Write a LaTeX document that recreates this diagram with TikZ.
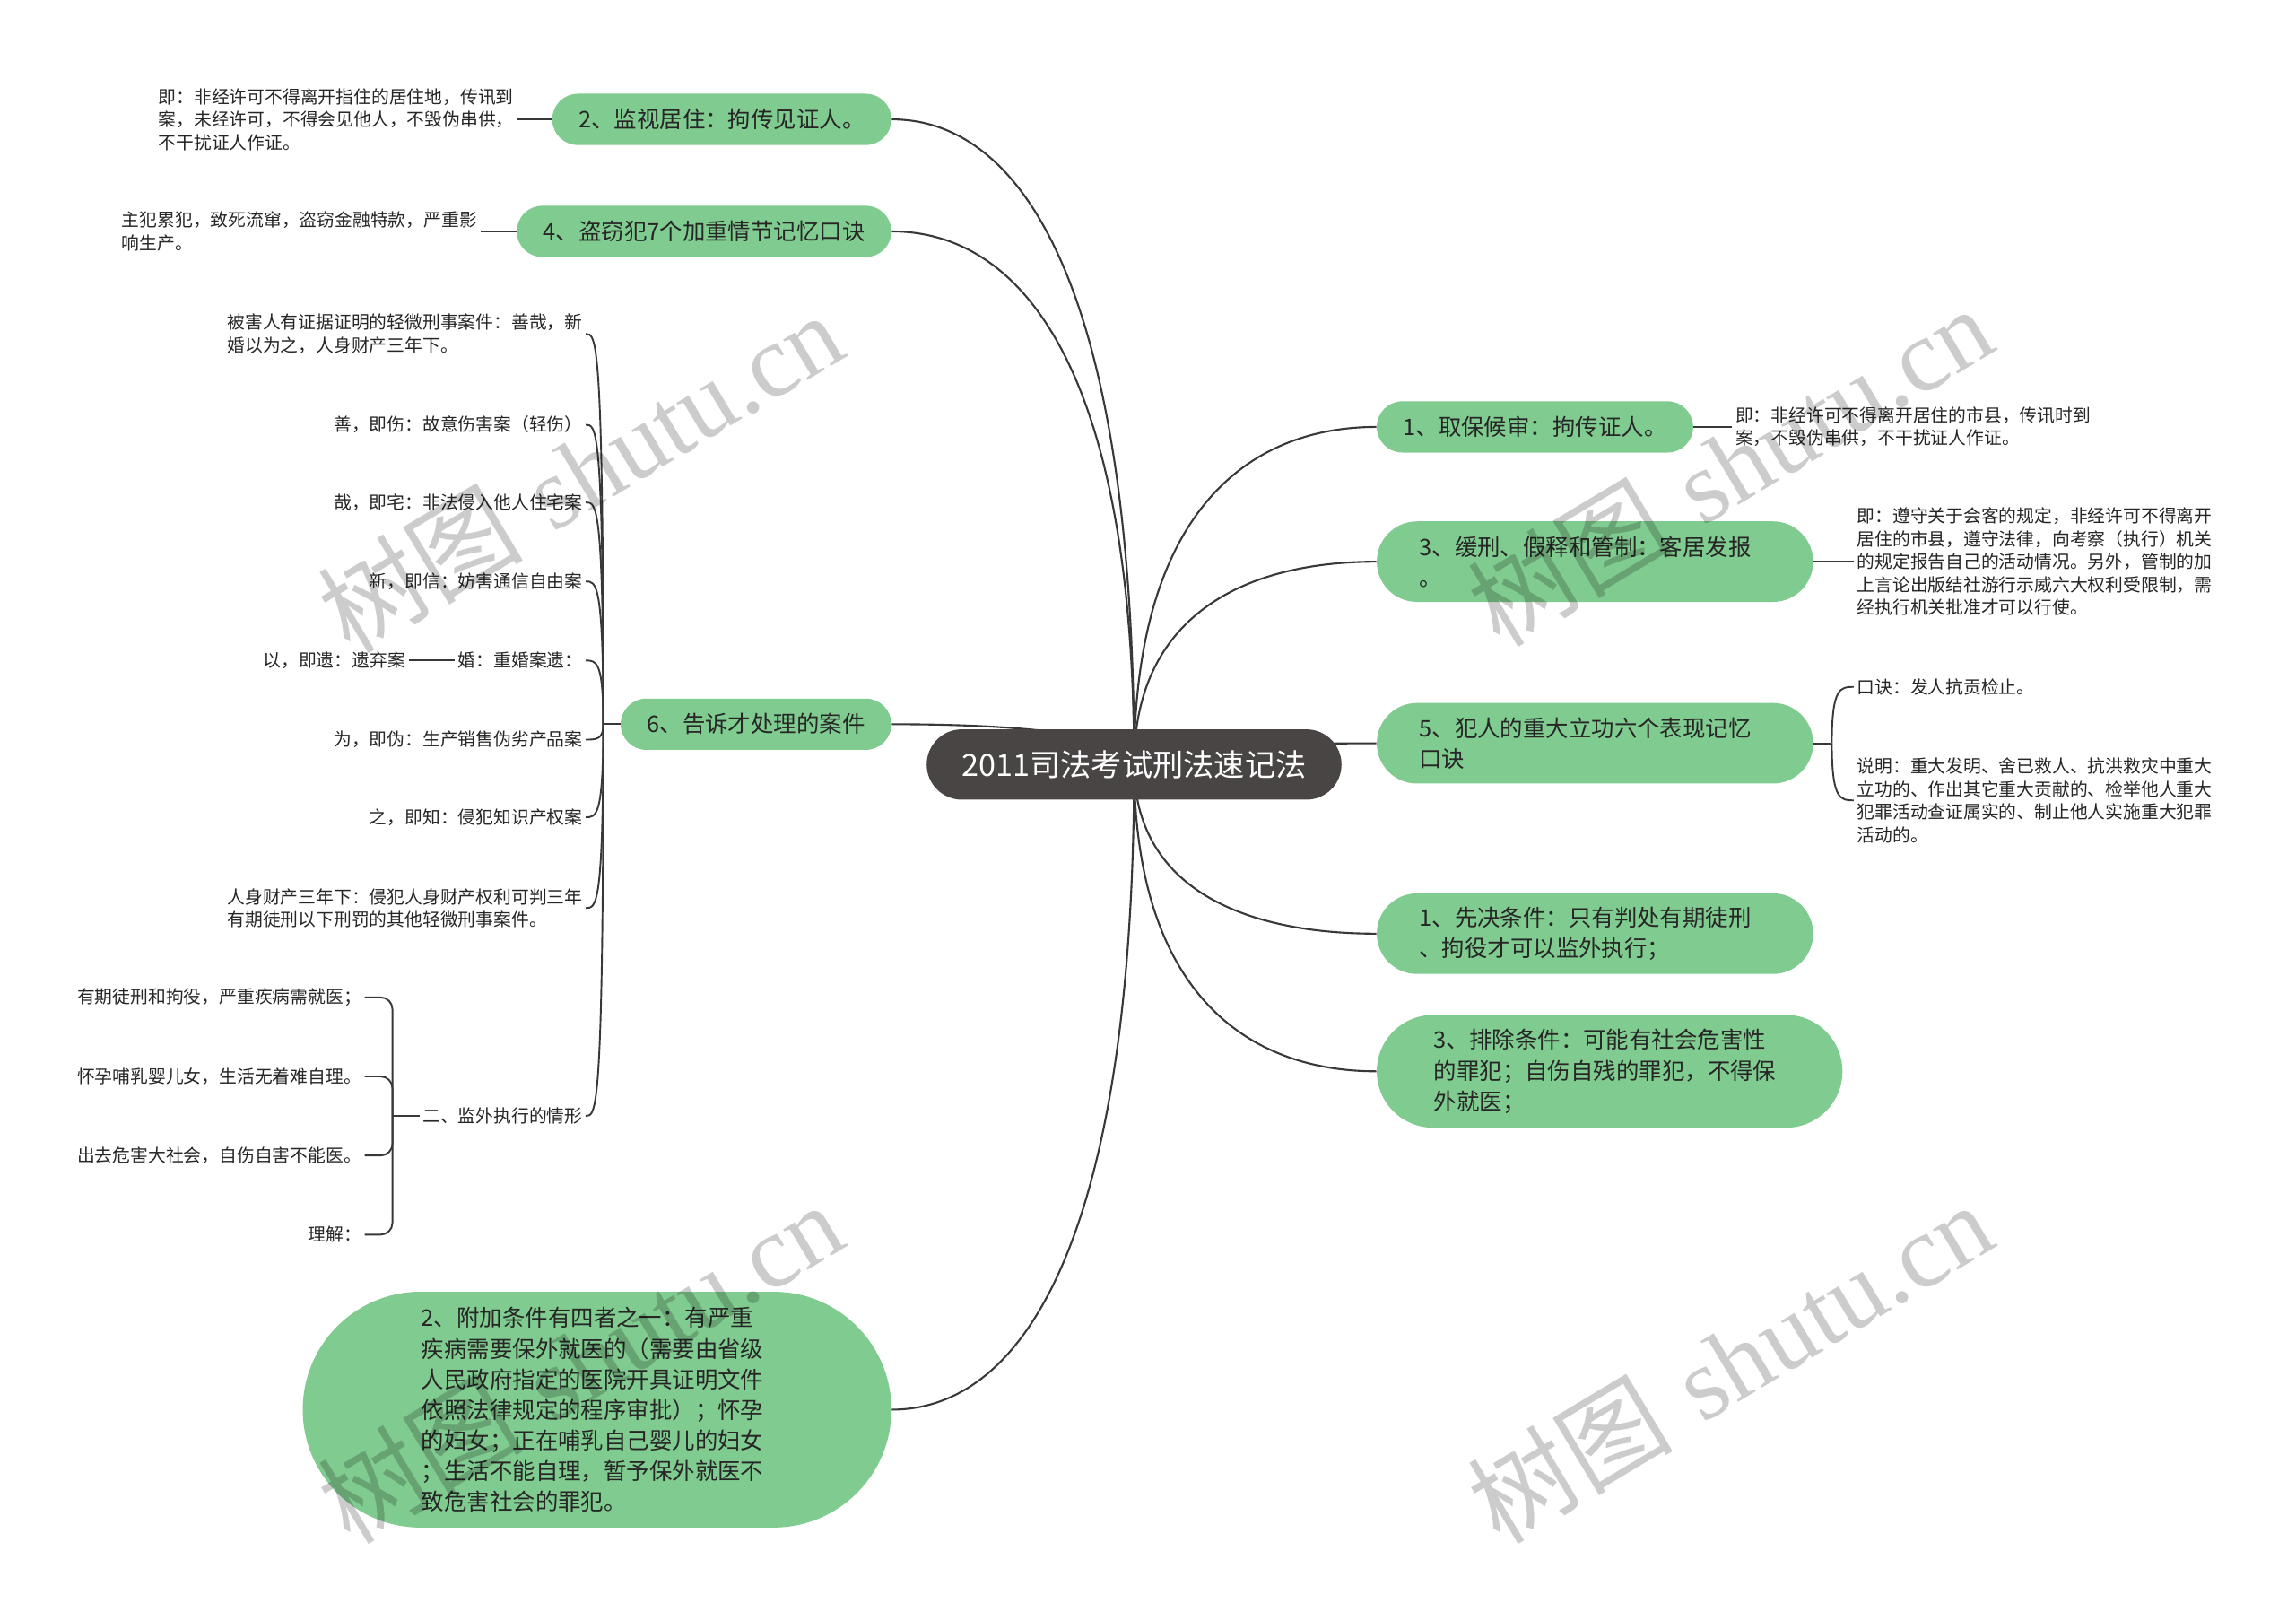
\documentclass[tikz,border=0pt]{standalone}
\usepackage{fontspec}
\newfontfamily\cjk{Noto Sans CJK SC}
\newfontfamily\wmlatin{Liberation Serif}
\usetikzlibrary{calc,backgrounds}
\definecolor{topicgreen}{HTML}{80CB8F}
\definecolor{rootgray}{HTML}{4A4545}
\definecolor{linegray}{HTML}{383838}
\definecolor{inkgray}{HTML}{262626}
\tikzset{
  pill/.style={minimum height=#1, rounded corners=#1/2},
  wide/.style={text width=7.2cm, align=left, inner xsep=#1},
  root/.style={fill=rootgray, text=white, font=\cjk\fontsize{17.9}{20}\selectfont,
    inner xsep=0.72cm, inner ysep=0pt, pill=1.44cm},
  topic/.style={fill=topicgreen, text=inkgray, font=\cjk\fontsize{13.3}{17.8}\selectfont,
    inner xsep=0.54cm, inner ysep=0pt, pill=1.05cm},
  leaf/.style={text=inkgray, font=\cjk\fontsize{10.35}{13.3}\selectfont,
    inner xsep=0.06cm, inner ysep=0.03cm, align=left},
  wmark/.style={rotate=31, opacity=0.2, text opacity=0.2, text=black,
    font=\fontsize{60}{60}\selectfont},
  link/.style={draw=linegray, line width=1.1pt},
  twig/.style={draw=linegray, line width=1pt},
  branch/.style={to path={.. controls ($(\tikztostart)!0.73!(\tikztostart |- \tikztotarget)$)
    and ($(\tikztotarget)!0.55!(\tikztotarget -| \tikztostart)$) .. (\tikztotarget)}},
  hook/.style={to path={.. controls (\tikztostart |- \tikztotarget)
    and ($(\tikztotarget)!0.6!(\tikztostart |- \tikztotarget)$) .. (\tikztotarget)}},
}
\begin{document}
\begin{tikzpicture}[x=0.03cm, y=-0.03cm]
    \useasboundingbox (0,0) rectangle (1568,1094.5);
    % root
    \node[root] (root) at (774.5,522) {2011司法考试刑法速记法};

    % left topics begin
    \node[topic, anchor=east] (n2) at (609,81.5) {2、监视居住：拘传见证人。};
    \node[topic, anchor=east] (n4) at (609,158) {4、盗窃犯7个加重情节记忆口诀};
    \node[topic, anchor=east] (n6) at (609,494.5) {6、告诉才处理的案件};
    \node[topic, wide=2.43cm, pill=4.83cm, anchor=east] (nb) at (609,962.5) {2、附加条件有四者之一：有严重\\疾病需要保外就医的（需要由省级\\人民政府指定的医院开具证明文件\\依照法律规定的程序审批）；怀孕\\的妇女；正在哺乳自己婴儿的妇女\\；生活不能自理，暂予保外就医不\\致危害社会的罪犯。};
    % left topics end

    % right topics begin
    \node[topic, anchor=west] (r1) at (940,291.5) {1、取保候审：拘传证人。};
    \node[topic, wide=0.87cm, pill=1.65cm, anchor=west] (r3) at (940,383.5) {3、缓刑、假释和管制：客居发报\\。};
    \node[topic, wide=0.87cm, pill=1.65cm, anchor=west] (r5) at (940,507.5) {5、犯人的重大立功六个表现记忆\\口诀};
    \node[topic, wide=0.87cm, pill=1.65cm, anchor=west] (ra) at (940,637.5) {1、先决条件：只有判处有期徒刑\\、拘役才可以监外执行；};
    \node[topic, wide=1.17cm, pill=2.31cm, anchor=west] (rc) at (940,731.5) {3、排除条件：可能有社会危害性\\的罪犯；自伤自残的罪犯，不得保\\外就医；};
    % right topics end

    % leaves begin
    \node[leaf, anchor=east] (l2) at (353,81.5) {即：非经许可不得离开指住的居住地，传讯到\\案，未经许可，不得会见他人，不毁伪串供，\\不干扰证人作证。};
    \node[leaf, anchor=east] (l4) at (328,158) {主犯累犯，致死流窜，盗窃金融特款，严重影\\响生产。};
    \node[leaf, anchor=west] (r1a) at (1183,291.5) {即：非经许可不得离开居住的市县，传讯时到\\案，不毁伪串供，不干扰证人作证。};
    \node[leaf, anchor=west] (r3a) at (1266,383.5) {即：遵守关于会客的规定，非经许可不得离开\\居住的市县，遵守法律，向考察（执行）机关\\的规定报告自己的活动情况。另外，管制的加\\上言论出版结社游行示威六大权利受限制，需\\经执行机关批准才可以行使。};
    \node[leaf, anchor=west] (r5a) at (1266,469) {口诀：发人抗贡检止。};
    \node[leaf, anchor=west] (r5b) at (1266,546.5) {说明：重大发明、舍已救人、抗洪救灾中重大\\立功的、作出其它重大贡献的、检举他人重大\\犯罪活动查证属实的、制止他人实施重大犯罪\\活动的。};
    % leaves end

    % cases of topic 6 begin
    \node[leaf, anchor=east] (c1) at (400,228) {被害人有证据证明的轻微刑事案件：善哉，新\\婚以为之，人身财产三年下。};
    \node[leaf, anchor=east] (c2) at (400,290) {善，即伤：故意伤害案（轻伤）};
    \node[leaf, anchor=east] (c3) at (400,343) {哉，即宅：非法侵入他人住宅案};
    \node[leaf, anchor=east] (c4) at (400,397) {新，即信：妨害通信自由案};
    \node[leaf, anchor=east] (c5) at (400,451) {婚：重婚案遗：};
    \node[leaf, anchor=east] (c5a) at (279,451) {以，即遗：遗弃案};
    \node[leaf, anchor=east] (c6) at (400,505) {为，即伪：生产销售伪劣产品案};
    \node[leaf, anchor=east] (c7) at (400,558) {之，即知：侵犯知识产权案};
    \node[leaf, anchor=east] (c8) at (400,620) {人身财产三年下：侵犯人身财产权利可判三年\\有期徒刑以下刑罚的其他轻微刑事案件。};
    \node[leaf, anchor=east] (c9) at (400,762) {二、监外执行的情形};
    \node[leaf, anchor=east] (d1) at (249,681) {有期徒刑和拘役，严重疾病需就医；};
    \node[leaf, anchor=east] (d2) at (249,735) {怀孕哺乳婴儿女，生活无着难自理。};
    \node[leaf, anchor=east] (d3) at (249,789) {出去危害大社会，自伤自害不能医。};
    \node[leaf, anchor=east] (d4) at (249,843) {理解：};
    % cases of topic 6 end

    \coordinate (j5) at (1251,507.5);
    \coordinate (j6) at (412,494.5);
    \coordinate (j9) at (268,762);

    \begin{pgfonlayer}{background}
    \fill[white] (0,0) rectangle (1568,1094.5);
    \draw[link] (root.center) to[branch] (n2.east);
    \draw[link] (root.center) to[branch] (n4.east);
    \draw[link] (root.center) to[branch] (n6.east);
    \draw[link] (root.center) to[branch] (nb.east);
    \draw[link] (root.center) to[branch] (r1.west);
    \draw[link] (root.center) to[branch] (r3.west);
    \draw[link] (root.center) to[branch] (r5.west);
    \draw[link] (root.center) to[branch] (ra.west);
    \draw[link] (root.center) to[branch] (rc.west);
    \end{pgfonlayer}

    \draw[link] (l2.east) -- (n2.west);
    \draw[link] (l4.east) -- (n4.west);
    \draw[link] (r1.east) -- (r1a.west);
    \draw[link] (r3.east) -- (r3a.west);
    \draw[twig] (r5.east) -- (j5);
    \draw[twig] (j5) to[hook] (r5a.west);
    \draw[twig] (j5) to[hook] (r5b.west);
    \draw[twig] (n6.west) -- (j6);
    \draw[twig] (j6) to[hook] (c1.east);
    \draw[twig] (j6) to[hook] (c2.east);
    \draw[twig] (j6) to[hook] (c3.east);
    \draw[twig] (j6) to[hook] (c4.east);
    \draw[twig] (j6) to[hook] (c5.east);
    \draw[twig] (j6) to[hook] (c6.east);
    \draw[twig] (j6) to[hook] (c7.east);
    \draw[twig] (j6) to[hook] (c8.east);
    \draw[twig] (j6) to[hook] (c9.east);
    \draw[link] (c5a.east) -- (c5.west);
    \draw[twig] (c9.west) -- (j9);
    \draw[twig, rounded corners=0.24cm] (j9) |- (d1.east);
    \draw[twig, rounded corners=0.24cm] (j9) |- (d2.east);
    \draw[twig, rounded corners=0.24cm] (j9) |- (d3.east);
    \draw[twig, rounded corners=0.24cm] (j9) |- (d4.east);

    % watermark
    \node[wmark] (wm1) at (396,322) {{\cjk 树图} {\wmlatin shutu.cn}};
    \node[wmark] (wm2) at (1181,318) {{\cjk 树图} {\wmlatin shutu.cn}};
    \node[wmark] (wm3) at (396,930) {{\cjk 树图} {\wmlatin shutu.cn}};
    \node[wmark] (wm4) at (1181,930) {{\cjk 树图} {\wmlatin shutu.cn}};
\end{tikzpicture}
\end{document}
